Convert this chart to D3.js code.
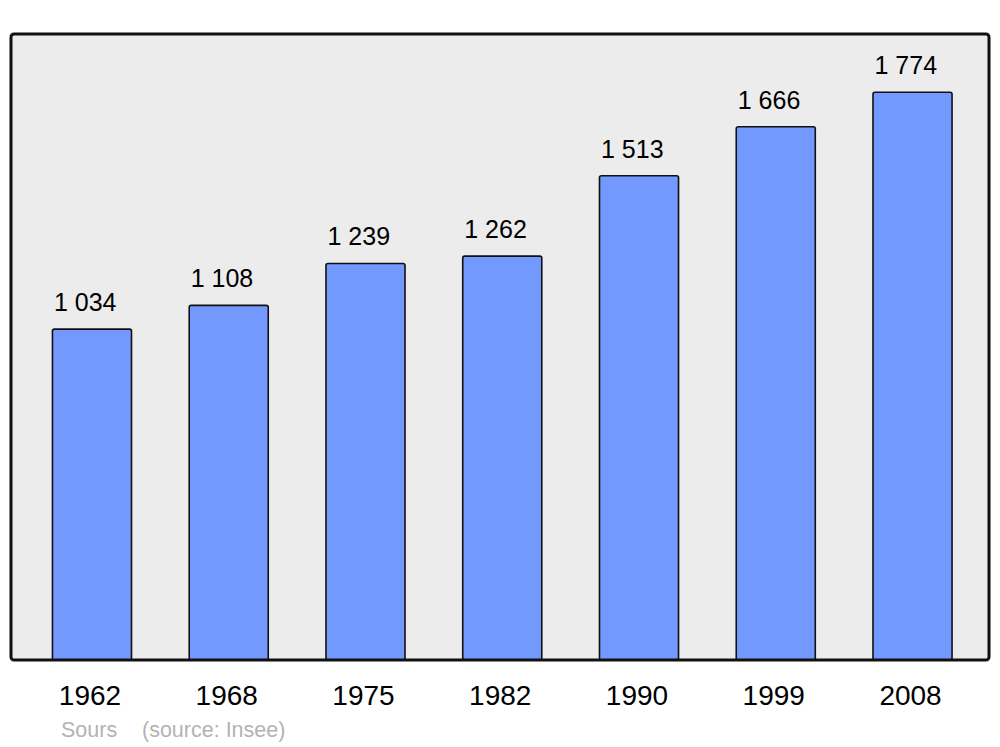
<!DOCTYPE html>
<html><head><meta charset="utf-8">
<script src="https://cdn.jsdelivr.net/npm/d3@7"></script>
<style>html,body{margin:0;padding:0;background:#fff}svg{display:block}</style>
</head><body>
<script>
const years = ["1962","1968","1975","1982","1990","1999","2008"];
const population = [1034,1108,1239,1262,1513,1666,1774];
const valueLabels = ["1 034","1 108","1 239","1 262","1 513","1 666","1 774"];
const sourceParts = ["Sours","(source: Insee)"];

const W=1000,H=747;
const svg=d3.select("body").append("svg").attr("width",W).attr("height",H);
const frame={x0:11,x1:989,y0:34,y1:660};
const x=d3.scaleBand().domain(years).range([23.6,980.9]).paddingInner(0.422).paddingOuter(0.211);
const y=d3.scaleLinear().domain([0,1956]).range([frame.y1,frame.y0]);
const font="Liberation Sans, Arial, sans-serif";

svg.append("rect").attr("x",frame.x0).attr("y",frame.y0).attr("width",frame.x1-frame.x0).attr("height",frame.y1-frame.y0)
  .attr("rx",3).attr("fill","#ececec").attr("stroke","none");

const data=years.map((d,i)=>({year:d,v:population[i],label:valueLabels[i]}));
svg.selectAll("rect.bar").data(data).join("rect").attr("class","bar")
  .attr("x",d=>x(d.year)).attr("y",d=>y(d.v)).attr("width",x.bandwidth()).attr("height",d=>y(0)-y(d.v))
  .attr("rx",2).attr("fill","#7399ff").attr("stroke","#111").attr("stroke-width",1.6);

svg.append("rect").attr("x",frame.x0).attr("y",frame.y0).attr("width",frame.x1-frame.x0).attr("height",frame.y1-frame.y0)
  .attr("rx",3).attr("fill","none").attr("stroke","#111").attr("stroke-width",3);

svg.selectAll("text.val").data(data).join("text").attr("class","val")
  .attr("x",d=>x(d.year)+1.5).attr("y",d=>y(d.v)-18)
  .attr("font-family",font).attr("font-size",25).attr("fill","#000")
  .text(d=>d.label);

const xAxis=svg.append("g").attr("transform",`translate(-2,${frame.y1})`)
  .call(d3.axisBottom(x).tickSize(0).tickPadding(0));
xAxis.select(".domain").remove();
xAxis.selectAll("text").attr("dy",null).attr("y",45)
  .attr("font-family",font).attr("font-size",28).attr("fill","#000");

const src=svg.append("g").attr("font-family",font).attr("font-size",21.5).attr("fill","#b3b3b3");
src.append("text").attr("x",61).attr("y",737).text(sourceParts[0]);
src.append("text").attr("x",142).attr("y",737).text(sourceParts[1]);
</script>
</body></html>
